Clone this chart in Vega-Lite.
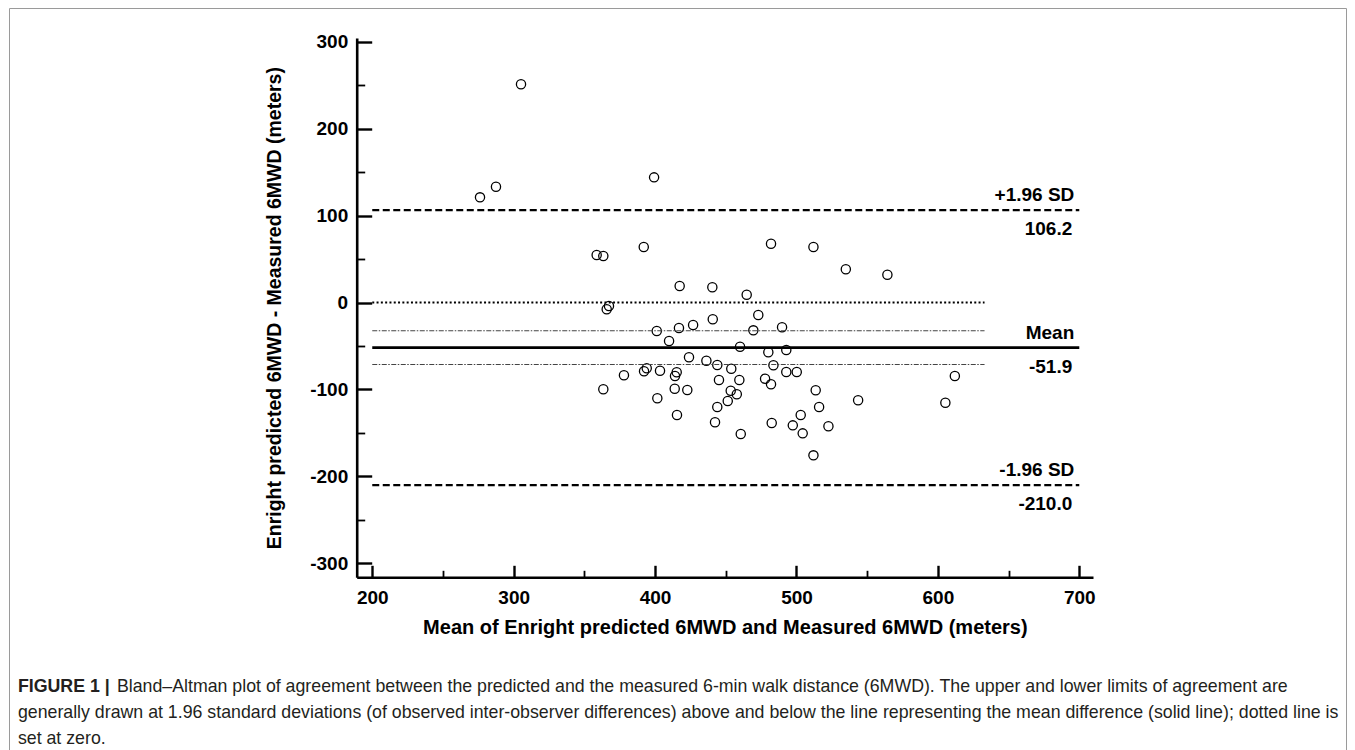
{
  "$schema": "https://vega.github.io/schema/vega-lite/v6.json",
  "width": 1337,
  "height": 742,
  "padding": {"left": 9, "top": 8, "right": 9, "bottom": 0},
  "background": "white",
  "config": {
    "view": {"stroke": "#9a9a9a", "strokeWidth": 1},
    "font": "Liberation Sans"
  },
  "datasets": {
    "points": [
      {"m": 276.2, "d": 121.0}, {"m": 287.5, "d": 133.2}, {"m": 305.2, "d": 251.0}, {"m": 399.3, "d": 144.0},
      {"m": 358.7, "d": 54.6}, {"m": 363.4, "d": 53.5}, {"m": 392.0, "d": 63.8}, {"m": 365.8, "d": -7.8},
      {"m": 367.4, "d": -4.0}, {"m": 401.2, "d": -32.8}, {"m": 378.0, "d": -83.7}, {"m": 392.2, "d": -79.1},
      {"m": 394.1, "d": -75.7}, {"m": 403.5, "d": -78.5}, {"m": 363.4, "d": -99.8}, {"m": 401.6, "d": -110.2},
      {"m": 482.0, "d": 67.6}, {"m": 512.0, "d": 63.8}, {"m": 534.9, "d": 38.2}, {"m": 564.3, "d": 32.0},
      {"m": 417.4, "d": 19.0}, {"m": 440.5, "d": 17.5}, {"m": 464.8, "d": 9.0}, {"m": 473.0, "d": -14.4},
      {"m": 440.8, "d": -19.3}, {"m": 416.9, "d": -29.3}, {"m": 426.9, "d": -25.9}, {"m": 469.5, "d": -32.0},
      {"m": 489.8, "d": -28.5}, {"m": 409.9, "d": -44.3}, {"m": 460.1, "d": -50.8}, {"m": 480.1, "d": -57.3},
      {"m": 492.8, "d": -54.6}, {"m": 424.0, "d": -63.0}, {"m": 436.3, "d": -67.0}, {"m": 444.0, "d": -71.9},
      {"m": 453.9, "d": -76.2}, {"m": 483.7, "d": -72.2}, {"m": 415.3, "d": -80.3}, {"m": 414.1, "d": -84.6},
      {"m": 492.8, "d": -80.0}, {"m": 500.2, "d": -80.0}, {"m": 445.2, "d": -89.2}, {"m": 459.6, "d": -89.2},
      {"m": 477.8, "d": -87.7}, {"m": 482.0, "d": -94.1}, {"m": 612.0, "d": -84.6}, {"m": 413.9, "d": -99.2},
      {"m": 422.8, "d": -100.7}, {"m": 453.5, "d": -101.5}, {"m": 457.8, "d": -105.6}, {"m": 513.6, "d": -101.0},
      {"m": 451.4, "d": -113.3}, {"m": 444.0, "d": -120.2}, {"m": 516.0, "d": -120.2}, {"m": 543.6, "d": -112.5},
      {"m": 605.3, "d": -115.3}, {"m": 415.5, "d": -129.4}, {"m": 503.0, "d": -129.4}, {"m": 442.4, "d": -137.8},
      {"m": 482.5, "d": -138.6}, {"m": 497.4, "d": -141.3}, {"m": 522.6, "d": -142.4}, {"m": 504.4, "d": -150.5},
      {"m": 460.6, "d": -151.3}, {"m": 512.0, "d": -175.8}
    ],
    "limits": [{"v": 106.2}, {"v": -210.0}],
    "meanline": [{"v": -51.9}],
    "zeroline": [{"v": 0}],
    "ciLines": [{"v": -32.5}, {"v": -71.3}],
    "labels": [
      {"v": 106.2, "above": "+1.96 SD", "below": "106.2"},
      {"v": -51.9, "above": "Mean", "below": "-51.9"},
      {"v": -210.0, "above": "-1.96 SD", "below": "-210.0"}
    ],
    "capHead": [{"t": "FIGURE 1 |"}],
    "capLine1": [{"t": "Bland\u2013Altman plot of agreement between the predicted and the measured 6-min walk distance (6MWD). The upper and lower limits of agreement are"}],
    "capRest": [{"t": "generally drawn at 1.96 standard deviations (of observed inter-observer differences) above and below the line representing the mean difference (solid line); dotted line is\nset at zero."}]
  },
  "resolve": {"axis": {"x": "independent", "y": "independent"}},
  "layer": [
    {
      "data": {"name": "points"},
      "mark": {"type": "point", "filled": false, "size": 85, "stroke": "black", "strokeWidth": 1.3, "opacity": 1},
      "encoding": {
        "x": {
          "field": "m", "type": "quantitative",
          "scale": {"domain": [189, 709.7], "range": [347.7, 1084], "nice": false, "zero": false},
          "axis": {
            "orient": "bottom", "offset": -172.7, "values": [200, 300, 400, 500, 600, 700],
            "labelExpr": "'' + datum.value", "grid": false,
            "domainColor": "black", "domainWidth": 2.6, "tickColor": "black", "tickWidth": 2.4, "tickSize": -12,
            "labelFont": "Liberation Sans", "labelFontSize": 19, "labelFontWeight": "bold", "labelColor": "black",
            "labelPadding": 23, "labelFlush": false, "labelOverlap": false,
            "title": "Mean of Enright predicted 6MWD and Measured 6MWD (meters)",
            "titleFont": "Liberation Sans", "titleFontSize": 20, "titleFontWeight": "bold", "titleColor": "black", "titlePadding": 10
          }
        },
        "y": {
          "field": "d", "type": "quantitative",
          "scale": {"domain": [-316.1, 304.3], "range": [569.3, 30], "nice": false, "zero": false},
          "axis": {
            "orient": "left", "offset": -347.7, "values": [-300, -200, -100, 0, 100, 200, 300],
            "labelExpr": "'' + datum.value", "grid": false,
            "domainColor": "black", "domainWidth": 2.6, "tickColor": "black", "tickWidth": 2.4, "tickSize": -15,
            "labelFont": "Liberation Sans", "labelFontSize": 19, "labelFontWeight": "bold", "labelColor": "black",
            "labelPadding": 24, "labelFlush": false, "labelOverlap": false,
            "title": "Enright predicted 6MWD - Measured 6MWD (meters)",
            "titleFont": "Liberation Sans", "titleFontSize": 19.5, "titleFontWeight": "bold", "titleColor": "black", "titlePadding": 25
          }
        }
      }
    },
    {
      "data": {"name": "zeroline"},
      "mark": {"type": "rule", "color": "black", "strokeWidth": 2.2, "strokeDash": [2, 2.3]},
      "encoding": {
        "x": {
          "datum": 200, "type": "quantitative",
          "axis": {
            "orient": "bottom", "offset": -172.7, "values": [250, 350, 450, 550, 650],
            "tickSize": -7, "tickWidth": 1.8, "tickColor": "black", "labels": false, "domain": false, "grid": false, "title": null
          }
        },
        "x2": {"datum": 633},
        "y": {
          "field": "v", "type": "quantitative",
          "axis": {
            "orient": "left", "offset": -347.7, "values": [-250, -150, -50, 50, 150, 250],
            "tickSize": -8, "tickWidth": 1.8, "tickColor": "black", "labels": false, "domain": false, "grid": false, "title": null
          }
        }
      }
    },
    {
      "data": {"name": "ciLines"},
      "mark": {"type": "rule", "color": "#444444", "strokeWidth": 1.2, "strokeDash": [5, 1.5, 1.5, 1.5]},
      "encoding": {
        "x": {"datum": 200, "type": "quantitative", "axis": null},
        "x2": {"datum": 633},
        "y": {"field": "v", "type": "quantitative", "axis": null}
      }
    },
    {
      "data": {"name": "limits"},
      "mark": {"type": "rule", "color": "black", "strokeWidth": 2.3, "strokeDash": [7, 3.5]},
      "encoding": {
        "x": {"datum": 200, "type": "quantitative", "axis": null},
        "x2": {"datum": 700},
        "y": {"field": "v", "type": "quantitative", "axis": null}
      }
    },
    {
      "data": {"name": "meanline"},
      "mark": {"type": "rule", "color": "black", "strokeWidth": 2.6},
      "encoding": {
        "x": {"datum": 200, "type": "quantitative", "axis": null},
        "x2": {"datum": 700},
        "y": {"field": "v", "type": "quantitative", "axis": null}
      }
    },
    {
      "data": {"name": "labels"},
      "mark": {"type": "text", "align": "right", "baseline": "alphabetic", "dx": -5, "dy": -9, "font": "Liberation Sans", "fontSize": 19, "fontWeight": "bold", "color": "black"},
      "encoding": {
        "x": {"datum": 700, "type": "quantitative", "axis": null},
        "y": {"field": "v", "type": "quantitative", "axis": null},
        "text": {"field": "above"}
      }
    },
    {
      "data": {"name": "labels"},
      "mark": {"type": "text", "align": "right", "baseline": "alphabetic", "dx": -7, "dy": 25, "font": "Liberation Sans", "fontSize": 19, "fontWeight": "bold", "color": "black"},
      "encoding": {
        "x": {"datum": 700, "type": "quantitative", "axis": null},
        "y": {"field": "v", "type": "quantitative", "axis": null},
        "text": {"field": "below"}
      }
    },
    {
      "data": {"name": "capHead"},
      "mark": {"type": "text", "align": "left", "baseline": "alphabetic", "font": "Liberation Sans", "fontSize": 17.8, "fontWeight": "bold", "color": "#231f20"},
      "encoding": {
        "x": {"datum": -50.6, "type": "quantitative", "axis": null},
        "y": {"datum": -447.7, "type": "quantitative", "axis": null},
        "text": {"field": "t"}
      }
    },
    {
      "data": {"name": "capLine1"},
      "mark": {"type": "text", "align": "left", "baseline": "alphabetic", "dx": 99, "font": "Liberation Sans", "fontSize": 17.75, "color": "#231f20"},
      "encoding": {
        "x": {"datum": -50.6, "type": "quantitative", "axis": null},
        "y": {"datum": -447.7, "type": "quantitative", "axis": null},
        "text": {"field": "t"}
      }
    },
    {
      "data": {"name": "capRest"},
      "mark": {"type": "text", "align": "left", "baseline": "alphabetic", "dy": 26, "lineBreak": "\n", "lineHeight": 26, "font": "Liberation Sans", "fontSize": 17.75, "color": "#231f20"},
      "encoding": {
        "x": {"datum": -50.6, "type": "quantitative", "axis": null},
        "y": {"datum": -447.7, "type": "quantitative", "axis": null},
        "text": {"field": "t"}
      }
    }
  ]
}
